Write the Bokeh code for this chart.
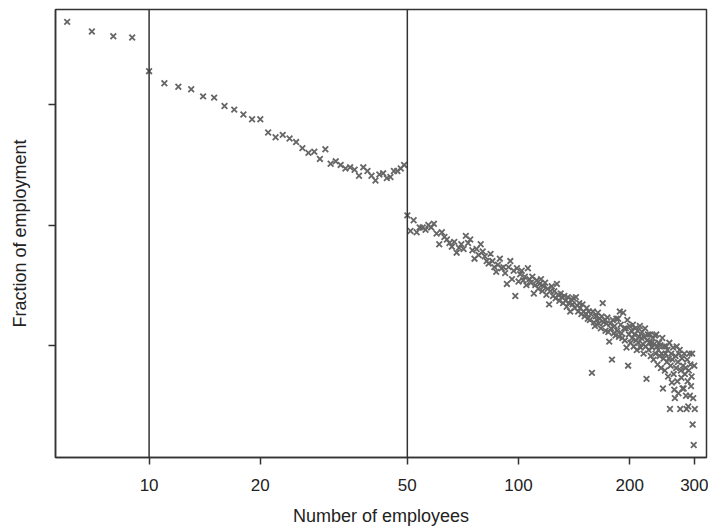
from bokeh.plotting import figure
from bokeh.models import Range1d, FixedTicker, Span, CustomJSTickFormatter, ColumnDataSource
from bokeh.embed import file_html
from bokeh.resources import INLINE

# Firm sizes (number of employees), one point per integer size
sizes_small = list(range(6, 50))
share_small = [3.69, 3.61, 3.57, 3.56, 3.28, 3.18, 3.15, 3.13, 3.07, 3.06,
               2.99, 2.96, 2.92, 2.88, 2.88, 2.77, 2.73, 2.75, 2.72, 2.69,
               2.64, 2.60, 2.61, 2.55, 2.63, 2.51, 2.53, 2.50, 2.47, 2.48,
               2.46, 2.41, 2.48, 2.45, 2.41, 2.37, 2.42, 2.43, 2.39, 2.40,
               2.45, 2.45, 2.47, 2.50]

sizes_large = list(range(50, 301))
share_large = [
    2.08, 1.95, 2.04, 1.94, 1.98, 1.98, 1.96, 2.00, 1.98, 2.01,   # 50-59
    1.93, 1.84, 1.94, 1.90, 1.88, 1.85, 1.82, 1.86, 1.77, 1.81,   # 60-69
    1.84, 1.80, 1.91, 1.85, 1.88, 1.79, 1.72, 1.80, 1.75, 1.84,   # 70-79
    1.78, 1.74, 1.70, 1.68, 1.76, 1.70, 1.65, 1.61, 1.67, 1.72,   # 80-89
    1.64, 1.65, 1.60, 1.51, 1.65, 1.70, 1.55, 1.62, 1.41, 1.64,   # 90-99
    1.53, 1.59, 1.62, 1.54, 1.57, 1.50, 1.64, 1.55, 1.52, 1.57,   # 100-109
    1.43, 1.50, 1.54, 1.47, 1.51, 1.55, 1.45, 1.49, 1.52, 1.42,   # 110-119
    1.47, 1.34, 1.45, 1.49, 1.41, 1.45, 1.39, 1.51, 1.42, 1.37,   # 120-129
    1.43, 1.40, 1.35, 1.41, 1.37, 1.32, 1.40, 1.35, 1.28, 1.38,   # 130-139
    1.34, 1.39, 1.31, 1.40, 1.33, 1.28, 1.35, 1.31, 1.26, 1.34,   # 140-149
    1.28, 1.24, 1.26, 1.31, 1.22, 1.28, 1.21, 1.26, 0.77, 1.28,   # 150-159
    1.19, 1.16, 1.24, 1.21, 1.27, 1.18, 1.22, 1.14, 1.24, 1.35,   # 160-169
    1.19, 1.21, 1.12, 1.18, 1.23, 1.11, 1.03, 1.18, 1.14, 0.88,   # 170-179
    1.21, 1.10, 1.16, 1.08, 1.22, 1.12, 1.22, 1.07, 1.28, 1.17,   # 180-189
    1.10, 1.06, 1.27, 1.14, 1.04, 1.14, 0.98, 1.21, 0.83, 1.09,   # 190-199
    1.16, 1.02, 1.12, 1.06, 1.17, 0.99, 1.09, 1.14, 1.04, 0.96,   # 200-209
    1.12, 1.02, 1.07, 1.16, 0.98, 1.06, 1.11, 1.01, 0.93, 1.07,   # 210-219
    1.14, 0.99, 0.72, 1.04, 1.09, 0.96, 1.02, 1.09, 0.91, 1.02,   # 220-229
    0.98, 1.06, 0.88, 1.01, 1.08, 0.93, 1.09, 0.99, 0.84, 0.96,   # 230-239
    1.02, 0.91, 1.00, 0.81, 0.93, 1.06, 0.64, 0.89, 0.99, 0.79,   # 240-249
    0.93, 0.99, 0.86, 0.96, 0.74, 0.89, 1.02, 0.47, 0.83, 0.93,   # 250-259
    0.69, 0.88, 0.98, 0.76, 0.63, 0.56, 0.91, 0.81, 0.99, 0.70,   # 260-269
    0.86, 0.60, 0.93, 0.96, 0.47, 0.79, 0.73, 0.89, 0.64, 0.83,   # 270-279
    0.64, 0.93, 0.76, 0.81, 0.58, 0.47, 0.88, 0.70, 0.49, 0.79,   # 280-289
    0.93, 0.58, 0.84, 0.66, 0.74, 0.93, 0.34, 0.56, 0.17, 0.83,   # 290-299
    0.47,                                                         # 300
]

x_ticks = [10, 20, 50, 100, 200, 300]
y_ticks = [1, 2, 3]
thresholds = [10, 50]

FONT = "Liberation Sans"
INK = "#333333"

p = figure(width=708, height=528, x_axis_type="log",
           x_range=Range1d(5.58, 322.7), y_range=Range1d(0.066, 3.793),
           output_backend="svg", toolbar_location=None,
           min_border_left=55, min_border_right=2, min_border_top=9, min_border_bottom=68,
           background_fill_color="white", border_fill_color="white")

p.xgrid.visible = False
p.ygrid.visible = False
p.outline_line_color = INK
p.outline_line_width = 1.5

src = ColumnDataSource(data=dict(x=sizes_small + sizes_large, y=share_small + share_large))
p.scatter("x", "y", source=src, marker="x", size=8, line_color="#666666", line_width=1.8)

for t in thresholds:
    p.add_layout(Span(location=t, dimension="height", line_color=INK, line_width=1.5))

xa = p.xaxis[0]
xa.ticker = FixedTicker(ticks=x_ticks, minor_ticks=[])
xa.axis_label = "Number of employees"
xa.major_label_overrides = {t: str(t) for t in x_ticks}
ya = p.yaxis[0]
ya.ticker = FixedTicker(ticks=y_ticks, minor_ticks=[])
ya.axis_label = "Fraction of employment"
ya.formatter = CustomJSTickFormatter(code="return ''")

for ax in (xa, ya):
    ax.axis_line_color = INK
    ax.axis_line_width = 1.5
    ax.major_tick_line_color = INK
    ax.major_tick_line_width = 1.5
    ax.major_tick_out = 7
    ax.major_tick_in = 0
    ax.minor_tick_line_color = None
    ax.major_label_text_font = FONT
    ax.major_label_text_font_size = "17px"
    ax.major_label_text_color = "#222222"
    ax.axis_label_text_font = FONT
    ax.axis_label_text_font_size = "18px"
    ax.axis_label_text_font_style = "normal"
    ax.axis_label_text_color = "#222222"

xa.major_label_standoff = 14
xa.axis_label_standoff = 12
ya.major_label_standoff = 0
ya.axis_label_standoff = 19

open("out.html", "w").write(file_html(p, INLINE))
